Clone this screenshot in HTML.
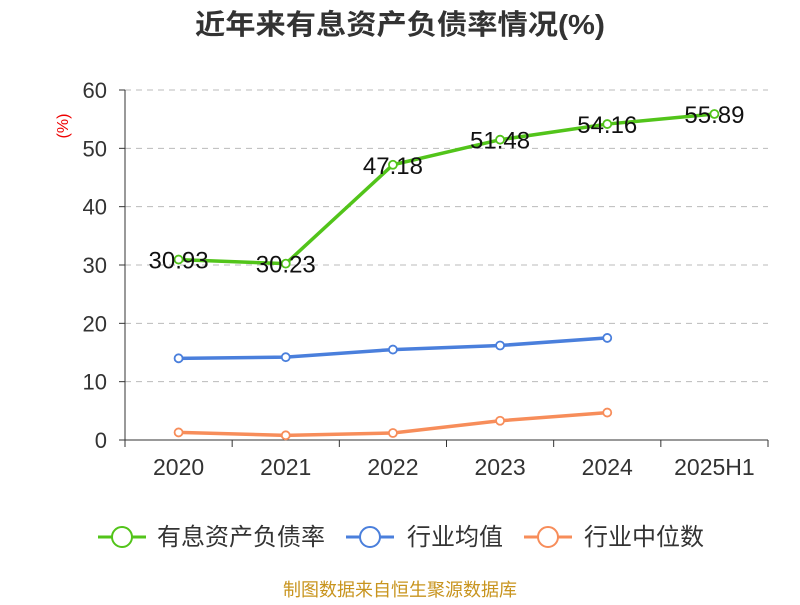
<!DOCTYPE html>
<html><head><meta charset="utf-8"><style>
body{margin:0;background:#fff;width:800px;height:600px;overflow:hidden}
svg text{font-family:"Liberation Sans","Noto Sans CJK SC",sans-serif}
</style></head><body>
<svg id="c" width="800" height="600">
<text x="400" y="34" text-anchor="middle" font-size="28" font-weight="bold" fill="#333" textLength="410" lengthAdjust="spacingAndGlyphs">近年来有息资产负债率情况(%)</text>
<text x="68" y="126" fill="#e00" font-size="16" transform="rotate(-90 68 126)" text-anchor="middle">(%)</text>
<g id="grid"></g><g id="axes"></g><g id="series"></g>
<g>
<g><line x1="98" y1="537" x2="146" y2="537" stroke="#52c41a" stroke-width="3"/><circle cx="122" cy="537" r="10" fill="#fff" stroke="#52c41a" stroke-width="2"/><text x="157" y="545" font-size="24" fill="#333">有息资产负债率</text></g>
<g><line x1="346" y1="537" x2="394" y2="537" stroke="#4a7fdc" stroke-width="3"/><circle cx="370" cy="537" r="10" fill="#fff" stroke="#4a7fdc" stroke-width="2"/><text x="407" y="545" font-size="24" fill="#333">行业均值</text></g>
<g><line x1="524" y1="537" x2="572" y2="537" stroke="#f78d5a" stroke-width="3"/><circle cx="548" cy="537" r="10" fill="#fff" stroke="#f78d5a" stroke-width="2"/><text x="584" y="545" font-size="24" fill="#333">行业中位数</text></g>
</g>
<text x="400" y="596" text-anchor="middle" font-size="18" fill="#c8941e">制图数据来自恒生聚源数据库</text>
</svg>
<script>
const categories=["2020","2021","2022","2023","2024","2025H1"];
const debtRatio=[30.93,30.23,47.18,51.48,54.16,55.89];
const industryAvg=[14.0,14.2,15.5,16.2,17.5];
const industryMedian=[1.3,0.8,1.2,3.3,4.7];
const yTicks=[0,10,20,30,40,50,60];
const NS="http://www.w3.org/2000/svg";
const x0=125,x1=768,y0=440,y1=90,yMax=60;
const bw=(x1-x0)/categories.length;
const X=i=>x0+bw*(i+0.5);
const Y=v=>y0-(v/yMax)*(y0-y1);
function mk(tag,attrs,parent){const e=document.createElementNS(NS,tag);for(const k in attrs)e.setAttribute(k,attrs[k]);parent.appendChild(e);return e;}
const grid=document.getElementById('grid'),axes=document.getElementById('axes'),ser=document.getElementById('series');
yTicks.forEach(t=>{
 if(t>0){const l=mk('line',{x1:x0,x2:x1,y1:Y(t),y2:Y(t),stroke:'#bbb','stroke-dasharray':'6,5'},grid);
 
 }
 const tx=mk('text',{x:x0-18,y:Y(t)+8,'text-anchor':'end','font-size':22,fill:'#333'},axes);tx.textContent=t;
 
 
 const tk=mk('line',{x1:x0-6,x2:x0,y1:Y(t),y2:Y(t),stroke:'#333'},axes);
 
 
});
const ya=mk('line',{x1:x0,x2:x0,y1:y1,y2:y0,stroke:'#333'},axes);


const xa=mk('line',{x1:x0,x2:x1,y1:y0,y2:y0,stroke:'#333'},axes);


for(let i=0;i<=categories.length;i++){const tk=mk('line',{x1:x0+bw*i,x2:x0+bw*i,y1:y0,y2:y0+7,stroke:'#333'},axes);
 
 }
categories.forEach((c,i)=>{const t=mk('text',{x:X(i),y:y0+35,'text-anchor':'middle','font-size':23,fill:'#333'},axes);t.textContent=c;
 
 });
function series(vals,color,name,labels){
 const p=mk('polyline',{points:vals.map((v,i)=>X(i)+','+Y(v)).join(' '),fill:'none',stroke:color,'stroke-width':3.5},ser);
 
 
 vals.forEach((v,i)=>{const c=mk('circle',{cx:X(i),cy:Y(v),r:4,fill:'#fff',stroke:color,'stroke-width':1.8},ser);
  
  
  if(labels){const t=mk('text',{x:X(i),y:Y(v)+9,'text-anchor':'middle','font-size':24,fill:'#111'},ser);t.textContent=v.toFixed(2);
  
  }
 });
}
series(industryMedian,'#f78d5a','industry-median',false);
series(industryAvg,'#4a7fdc','industry-avg',false);
series(debtRatio,'#52c41a','debt-ratio',true);
</script>
</body></html>
